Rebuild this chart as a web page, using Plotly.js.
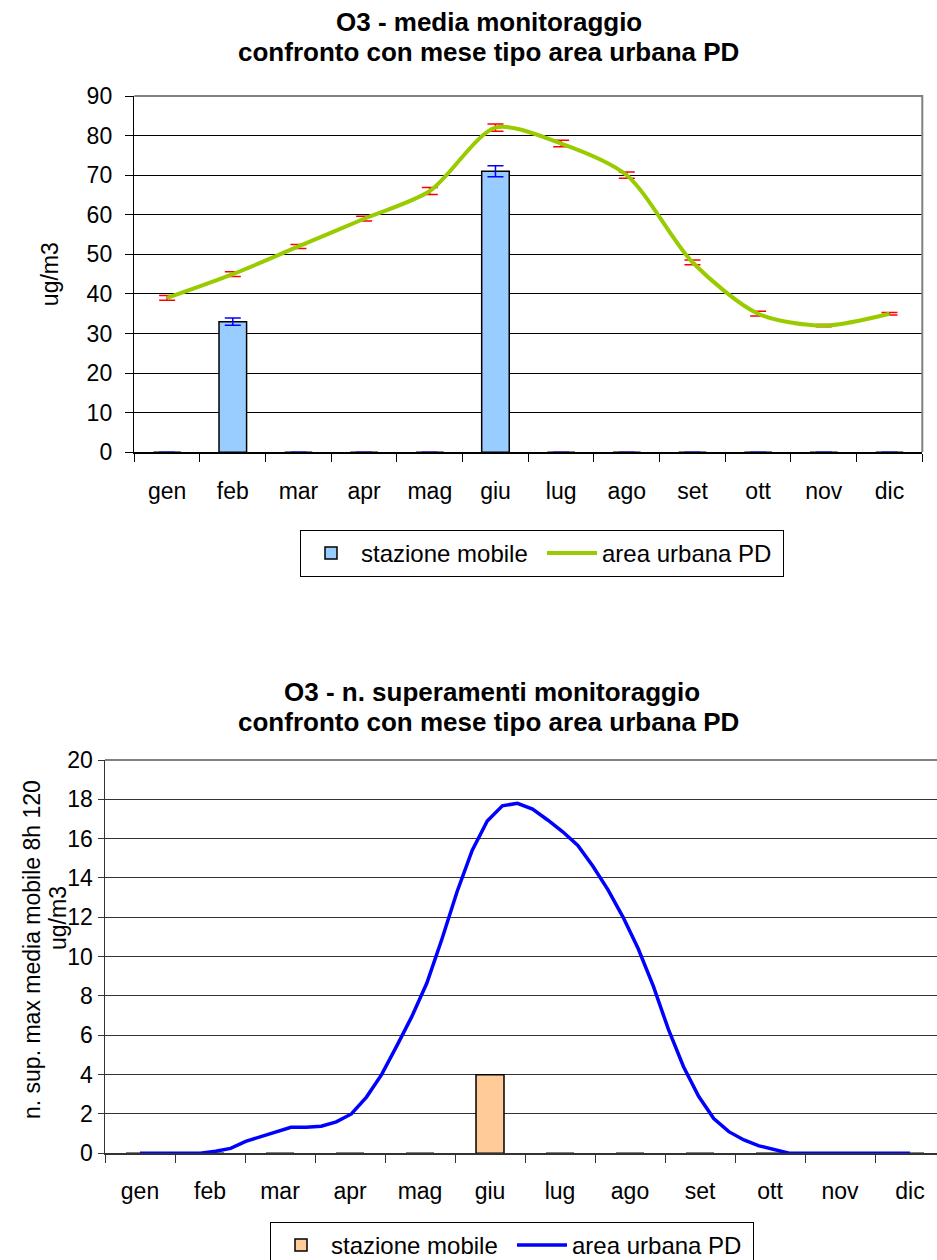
<!DOCTYPE html>
<html>
<head>
<meta charset="utf-8">
<script src="https://cdn.plot.ly/plotly-3.0.1.min.js"></script>
<style>html,body{margin:0;padding:0;background:#fff;}#chart{width:937px;height:1260px;}</style>
</head>
<body>
<div id="chart"></div>
<script>
// ---- data ----
const months = ['gen','feb','mar','apr','mag','giu','lug','ago','set','ott','nov','dic'];
const mediaStazione = [0,33,0,0,0,71,0,0,0,0,0,0];
const mediaStazioneErr = [0,0.9,0,0,0,1.4,0,0,0,0,0,0];
const mediaArea = [39,45,52,59,66,82,78,70,48,35,32,35];
const mediaAreaErr = [0.6,0.6,0.5,0.6,0.9,0.9,0.8,0.8,0.6,0.6,0.3,0.3];
const superStazione = [0,0,0,0,0,4,0,0,0,0,0,0];
// weekly series (52 weeks) for area urbana PD
const superAreaWeekly = [0,0,0,0,0,0.1,0.25,0.61,0.85,1.1,1.32,1.32,1.38,1.6,2.0,2.86,4.0,5.45,6.95,8.66,10.9,13.3,15.4,16.9,17.67,17.8,17.5,16.95,16.35,15.65,14.6,13.4,12.0,10.4,8.5,6.3,4.4,2.9,1.77,1.1,0.68,0.38,0.17,0,0,0,0,0,0,0,0,0];

const W = 937, H = 1260;
const FONT = 'Liberation Sans, Arial, sans-serif';
const px = v => v / W;
const py = v => 1 - v / H;

// bottom chart: visible right edge clipped
const botLeft = 105, catW2 = 70;
const botRangeMax = (W - botLeft) / catW2 - 0.5;
const nW = superAreaWeekly.length;
const wk = m => 1 + m * (nW - 1) / 11;

const traces = [
  {type:'bar', name:'stazione mobile', x:months, y:mediaStazione, width:0.42,
   marker:{color:'#99CCFF', line:{color:'#000', width:1.5}},
   error_y:{type:'data', array:mediaStazioneErr, visible:true, color:'#0000FF', thickness:1.5, width:8},
   xaxis:'x', yaxis:'y', legend:'legend'},
  {type:'scatter', mode:'lines', name:'area urbana PD', x:months, y:mediaArea,
   line:{color:'#99CC00', width:4, shape:'spline', smoothing:0.8},
   error_y:{type:'data', array:mediaAreaErr, visible:true, color:'#FF0000', thickness:1.5, width:8},
   xaxis:'x', yaxis:'y', legend:'legend'},
  {type:'bar', name:'stazione mobile', x:months, y:superStazione, width:0.4,
   marker:{color:'#FFCC99', line:{color:'#000', width:1.5}},
   xaxis:'x2', yaxis:'y2', legend:'legend2'},
  {type:'scatter', mode:'lines', name:'area urbana PD', x0:1, dx:1, y:superAreaWeekly,
   line:{color:'#0000FF', width:3.5},
   xaxis:'x3', yaxis:'y2', legend:'legend2'}
];

const axFont = {family:FONT, size:23, color:'#000'};
const legFont = {family:FONT, size:24, color:'#000'};
const titleFont = {family:FONT, size:26, color:'#000'};
const layout = {
  width:W, height:H, margin:{l:0,r:0,t:0,b:0, autoexpand:false},
  paper_bgcolor:'#fff', plot_bgcolor:'#fff',
  font:{family:FONT, size:23, color:'#000'},
  showlegend:true,
  xaxis:{domain:[px(134.3), px(922.3)], anchor:'y', type:'category', categoryarray:months,
    range:[-0.5,11.5], showline:true, linecolor:'#000', linewidth:1.5,
    ticks:'outside', tickson:'boundaries', ticklen:8, tickcolor:'#000', tickwidth:1,
    showgrid:false, zeroline:false, tickfont:axFont, ticklabelstandoff:18},
  yaxis:{domain:[py(452.3), py(96)], anchor:'x', range:[0,90], dtick:10,
    showline:true, linecolor:'#000', linewidth:1.5, ticks:'outside', ticklen:8, tickcolor:'#000',
    showgrid:true, gridcolor:'#000', gridwidth:1, zeroline:false, tickfont:axFont, ticklabelstandoff:8,
    title:{text:'ug/m3', font:axFont, standoff:21}},
  xaxis2:{domain:[px(botLeft), 1], anchor:'y2', type:'category', categoryarray:months,
    range:[-0.5, botRangeMax], showline:true, linecolor:'#333', linewidth:1.5,
    ticks:'outside', tickson:'boundaries', ticklen:8, tickcolor:'#333', tickwidth:1,
    showgrid:false, zeroline:false, tickfont:axFont, ticklabelstandoff:17},
  xaxis3:{overlaying:'x2', anchor:'y2', range:[wk(-0.5), wk(botRangeMax)], visible:false},
  yaxis2:{domain:[py(1153.3), py(760)], anchor:'x2', range:[0,20], dtick:2,
    showline:true, linecolor:'#333', linewidth:1.5, ticks:'outside', ticklen:6, tickcolor:'#333',
    showgrid:true, gridcolor:'#333', gridwidth:1, zeroline:false, tickfont:axFont},
  legend:{x:px(300), y:py(530), xanchor:'left', yanchor:'top', orientation:'h',
    bordercolor:'#000', borderwidth:1, bgcolor:'#fff', font:legFont, itemwidth:50,
    entrywidth:176, entrywidthmode:'pixels', tracegroupgap:0},
  legend2:{x:px(270), y:py(1222), xanchor:'left', yanchor:'top', orientation:'h',
    bordercolor:'#000', borderwidth:1, bgcolor:'#fff', font:legFont, itemwidth:50,
    entrywidth:176, entrywidthmode:'pixels', tracegroupgap:0},
  shapes:[
    {type:'path', xref:'x domain', yref:'y domain', path:'M0,1 L1,1 L1,0', line:{color:'#808080', width:2}},
    {type:'line', xref:'x2 domain', yref:'y2 domain', x0:0, x1:1, y0:1, y1:1, line:{color:'#808080', width:2}}
  ],
  annotations:[
    {text:'<b>O3 - media monitoraggio</b>', xref:'paper', yref:'paper', x:px(489), y:py(22), showarrow:false, xanchor:'center', yanchor:'middle', font:titleFont},
    {text:'<b>confronto con mese tipo area urbana PD</b>', xref:'paper', yref:'paper', x:px(489), y:py(52), showarrow:false, xanchor:'center', yanchor:'middle', font:titleFont},
    {text:'<b>O3 - n. superamenti monitoraggio</b>', xref:'paper', yref:'paper', x:px(492), y:py(692), showarrow:false, xanchor:'center', yanchor:'middle', font:titleFont},
    {text:'<b>confronto con mese tipo area urbana PD</b>', xref:'paper', yref:'paper', x:px(489), y:py(722), showarrow:false, xanchor:'center', yanchor:'middle', font:titleFont},
    {text:'n. sup. max media mobile 8h 120', xref:'paper', yref:'paper', x:px(32), y:py(950), showarrow:false, textangle:-90, xanchor:'center', yanchor:'middle', font:axFont},
    {text:'ug/m3', xref:'paper', yref:'paper', x:px(58), y:py(918), showarrow:false, textangle:-90, xanchor:'center', yanchor:'middle', font:axFont}
  ]
};

Plotly.newPlot('chart', traces, layout, {staticPlot:true, displayModeBar:false});
</script>
</body>
</html>
